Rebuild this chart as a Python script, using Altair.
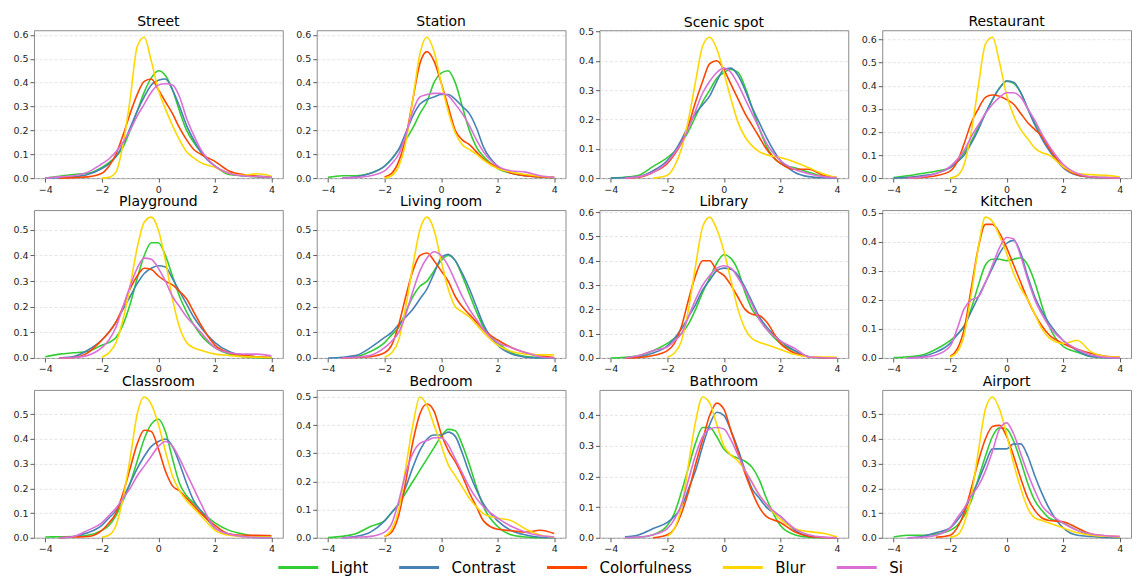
import altair as alt
import pandas as pd

X = [-4, -3.5, -3, -2.5, -2, -1.75, -1.5, -1.25, -1, -0.75, -0.5, -0.25,
     0, 0.25, 0.5, 0.75, 1, 1.25, 1.5, 2, 2.5, 3, 3.5, 4]
SERIES = ["Light", "Contrast", "Colorfulness", "Blur", "Si"]
COLORS = ["#32CD32", "#4682B4", "#FF4500", "#FFD700", "#DA70D6"]
Y_TICKS = [0.0, 0.1, 0.2, 0.3, 0.4, 0.5, 0.6]
X_TICKS = [-4, -2, 0, 2, 4]
N = None

street_light = [0.0, 0.008, 0.015, 0.02, 0.045, 0.065, 0.09, 0.13, 0.2, 0.28, 0.36, 0.42, 0.45, 0.43, 0.37, 0.28, 0.2, 0.15, 0.11, 0.05, 0.015, 0.01, 0.005, 0.003]
street_contrast = [0.0, 0.002, 0.005, 0.015, 0.04, 0.06, 0.09, 0.14, 0.21, 0.28, 0.34, 0.39, 0.41, 0.415, 0.37, 0.3, 0.22, 0.16, 0.11, 0.05, 0.02, 0.01, 0.008, 0.005]
street_colorfulness = [N, 0.0, 0.002, 0.005, 0.02, 0.05, 0.1, 0.18, 0.27, 0.35, 0.405, 0.415, 0.37, 0.32, 0.27, 0.21, 0.16, 0.12, 0.1, 0.07, 0.03, 0.015, 0.008, 0.005]
street_blur = [N, N, N, N, 0.0, 0.003, 0.025, 0.14, 0.33, 0.55, 0.59, 0.49, 0.37, 0.29, 0.22, 0.16, 0.11, 0.085, 0.065, 0.045, 0.02, 0.012, 0.018, 0.008]
street_si = [0.0, 0.005, 0.01, 0.025, 0.06, 0.08, 0.11, 0.15, 0.2, 0.26, 0.31, 0.36, 0.39, 0.395, 0.39, 0.34, 0.25, 0.18, 0.12, 0.05, 0.02, 0.01, 0.006, 0.003]

station_light = [0.003, 0.01, 0.01, 0.02, 0.05, 0.08, 0.12, 0.16, 0.21, 0.27, 0.32, 0.4, 0.44, 0.45, 0.4, 0.3, 0.2, 0.13, 0.09, 0.04, 0.02, 0.01, 0.005, 0.002]
station_contrast = [N, 0.0, 0.005, 0.02, 0.05, 0.08, 0.12, 0.19, 0.26, 0.31, 0.33, 0.34, 0.35, 0.35, 0.33, 0.3, 0.27, 0.21, 0.13, 0.05, 0.02, 0.01, 0.005, 0.002]
station_colorfulness = [N, N, N, N, 0.005, 0.02, 0.07, 0.17, 0.33, 0.48, 0.53, 0.49, 0.4, 0.3, 0.2, 0.16, 0.14, 0.11, 0.08, 0.045, 0.02, 0.01, 0.005, 0.003]
station_blur = [N, N, N, N, 0.0, 0.01, 0.05, 0.15, 0.33, 0.52, 0.59, 0.53, 0.4, 0.28, 0.19, 0.14, 0.12, 0.1, 0.075, 0.04, 0.025, 0.015, 0.008, 0.003]
station_si = [N, 0.0, 0.003, 0.01, 0.03, 0.06, 0.1, 0.18, 0.28, 0.34, 0.35, 0.355, 0.355, 0.345, 0.31, 0.27, 0.22, 0.16, 0.11, 0.05, 0.03, 0.025, 0.01, 0.003]

scenic_light = [0.001, 0.003, 0.01, 0.04, 0.07, 0.09, 0.12, 0.16, 0.21, 0.26, 0.3, 0.34, 0.36, 0.37, 0.36, 0.31, 0.24, 0.17, 0.11, 0.05, 0.035, 0.02, 0.006, 0.001]
scenic_contrast = [0.0, 0.002, 0.005, 0.025, 0.06, 0.09, 0.13, 0.18, 0.22, 0.25, 0.28, 0.33, 0.37, 0.375, 0.35, 0.3, 0.24, 0.19, 0.14, 0.06, 0.02, 0.005, 0.001, 0.0]
scenic_colorfulness = [N, 0.0, 0.003, 0.02, 0.05, 0.08, 0.12, 0.18, 0.26, 0.33, 0.39, 0.4, 0.37, 0.32, 0.27, 0.22, 0.18, 0.14, 0.1, 0.05, 0.03, 0.03, 0.01, 0.002]
scenic_blur = [N, N, N, 0.0, 0.01, 0.04, 0.1, 0.2, 0.33, 0.45, 0.48, 0.44, 0.36, 0.27, 0.19, 0.14, 0.11, 0.09, 0.08, 0.07, 0.055, 0.035, 0.015, 0.002]
scenic_si = [N, 0.0, 0.005, 0.02, 0.055, 0.085, 0.12, 0.17, 0.23, 0.29, 0.33, 0.36, 0.375, 0.36, 0.32, 0.27, 0.22, 0.17, 0.12, 0.06, 0.03, 0.015, 0.005, 0.001]

restaurant_light = [0.002, 0.01, 0.02, 0.03, 0.045, 0.07, 0.11, 0.16, 0.22, 0.28, 0.34, 0.39, 0.42, 0.41, 0.37, 0.3, 0.24, 0.18, 0.13, 0.05, 0.015, 0.005, 0.002, 0.001]
restaurant_contrast = [0.0, 0.003, 0.01, 0.02, 0.045, 0.07, 0.1, 0.15, 0.21, 0.28, 0.34, 0.39, 0.42, 0.415, 0.37, 0.3, 0.23, 0.17, 0.12, 0.045, 0.012, 0.004, 0.001, 0.0]
restaurant_colorfulness = [N, 0.0, 0.003, 0.01, 0.03, 0.07, 0.15, 0.24, 0.3, 0.35, 0.36, 0.355, 0.34, 0.32, 0.28, 0.24, 0.21, 0.18, 0.13, 0.05, 0.015, 0.005, 0.002, 0.001]
restaurant_blur = [N, N, N, N, 0.0, 0.01, 0.06, 0.2, 0.4, 0.58, 0.61, 0.5, 0.36, 0.27, 0.21, 0.17, 0.13, 0.11, 0.1, 0.05, 0.02, 0.015, 0.012, 0.005]
restaurant_si = [N, 0.0, 0.005, 0.02, 0.05, 0.08, 0.12, 0.18, 0.23, 0.28, 0.32, 0.35, 0.37, 0.37, 0.35, 0.3, 0.25, 0.19, 0.14, 0.06, 0.02, 0.005, 0.002, 0.0]

playground_light = [0.005, 0.015, 0.02, 0.025, 0.05, 0.06, 0.08, 0.13, 0.21, 0.31, 0.4, 0.45, 0.45, 0.4, 0.32, 0.24, 0.18, 0.13, 0.09, 0.04, 0.015, 0.005, 0.001, 0.0]
playground_contrast = [N, 0.0, 0.005, 0.03, 0.07, 0.1, 0.14, 0.19, 0.24, 0.29, 0.33, 0.35, 0.36, 0.355, 0.31, 0.26, 0.21, 0.16, 0.12, 0.06, 0.025, 0.01, 0.004, 0.002]
playground_colorfulness = [N, 0.0, 0.002, 0.02, 0.07, 0.1, 0.14, 0.2, 0.27, 0.32, 0.35, 0.345, 0.32, 0.3, 0.285, 0.26, 0.23, 0.18, 0.13, 0.05, 0.02, 0.01, 0.004, 0.002]
playground_blur = [N, N, N, N, 0.003, 0.02, 0.06, 0.15, 0.28, 0.43, 0.53, 0.55, 0.5, 0.38, 0.23, 0.12, 0.06, 0.04, 0.03, 0.015, 0.01, 0.005, 0.003, 0.002]
playground_si = [N, 0.0, 0.002, 0.01, 0.04, 0.07, 0.12, 0.2, 0.28, 0.35, 0.39, 0.385, 0.35, 0.3, 0.24, 0.2, 0.16, 0.13, 0.1, 0.04, 0.02, 0.015, 0.015, 0.008]

living_light = [N, 0.0, 0.005, 0.025, 0.06, 0.09, 0.12, 0.18, 0.24, 0.28, 0.3, 0.34, 0.38, 0.4, 0.38, 0.32, 0.25, 0.18, 0.12, 0.06, 0.02, 0.005, 0.001, 0.0]
living_contrast = [0.0, 0.003, 0.01, 0.04, 0.08, 0.1, 0.13, 0.16, 0.19, 0.23, 0.27, 0.33, 0.39, 0.405, 0.38, 0.33, 0.27, 0.2, 0.13, 0.05, 0.015, 0.003, 0.0, 0.0]
living_colorfulness = [N, 0.0, 0.002, 0.005, 0.02, 0.05, 0.13, 0.24, 0.34, 0.4, 0.41, 0.38, 0.34, 0.3, 0.24, 0.2, 0.17, 0.14, 0.11, 0.07, 0.04, 0.02, 0.008, 0.002]
living_blur = [N, N, N, N, 0.003, 0.02, 0.07, 0.2, 0.36, 0.5, 0.55, 0.5, 0.38, 0.27, 0.2, 0.18, 0.16, 0.13, 0.1, 0.05, 0.025, 0.015, 0.012, 0.012]
living_si = [N, 0.0, 0.003, 0.01, 0.04, 0.065, 0.1, 0.17, 0.26, 0.34, 0.39, 0.415, 0.4, 0.36, 0.3, 0.24, 0.19, 0.15, 0.11, 0.06, 0.04, 0.02, 0.005, 0.0]

library_light = [0.0, 0.003, 0.01, 0.03, 0.06, 0.08, 0.1, 0.14, 0.2, 0.27, 0.33, 0.39, 0.425, 0.41, 0.36, 0.27, 0.2, 0.16, 0.12, 0.06, 0.03, 0.005, 0.001, 0.0]
library_contrast = [N, 0.0, 0.005, 0.02, 0.05, 0.08, 0.12, 0.17, 0.22, 0.28, 0.32, 0.36, 0.37, 0.365, 0.34, 0.29, 0.23, 0.17, 0.13, 0.07, 0.03, 0.005, 0.001, 0.0]
library_colorfulness = [N, 0.0, 0.002, 0.01, 0.03, 0.06, 0.13, 0.24, 0.34, 0.4, 0.4, 0.36, 0.34, 0.3, 0.25, 0.2, 0.18, 0.175, 0.15, 0.06, 0.02, 0.005, 0.001, 0.0]
library_blur = [N, N, N, N, 0.003, 0.02, 0.07, 0.2, 0.38, 0.54, 0.58, 0.53, 0.44, 0.32, 0.2, 0.12, 0.08, 0.065, 0.055, 0.035, 0.015, 0.005, 0.004, 0.003]
library_si = [N, 0.0, 0.01, 0.03, 0.045, 0.07, 0.1, 0.17, 0.24, 0.3, 0.34, 0.37, 0.38, 0.37, 0.33, 0.28, 0.22, 0.16, 0.12, 0.07, 0.04, 0.005, 0.001, 0.0]

kitchen_light = [0.001, 0.004, 0.01, 0.03, 0.06, 0.08, 0.11, 0.17, 0.25, 0.32, 0.34, 0.34, 0.335, 0.34, 0.345, 0.32, 0.26, 0.18, 0.11, 0.04, 0.02, 0.005, 0.001, 0.0]
kitchen_contrast = [N, 0.0, 0.005, 0.02, 0.05, 0.08, 0.11, 0.16, 0.21, 0.26, 0.31, 0.36, 0.395, 0.405, 0.36, 0.28, 0.21, 0.16, 0.12, 0.06, 0.025, 0.005, 0.001, 0.0]
kitchen_colorfulness = [N, N, N, N, 0.005, 0.03, 0.1, 0.24, 0.38, 0.46, 0.46, 0.43, 0.38, 0.32, 0.26, 0.2, 0.15, 0.11, 0.08, 0.05, 0.03, 0.015, 0.006, 0.003]
kitchen_blur = [N, N, N, N, 0.003, 0.02, 0.08, 0.22, 0.38, 0.485, 0.47, 0.42, 0.36, 0.29, 0.24, 0.2, 0.15, 0.1, 0.07, 0.05, 0.06, 0.02, 0.005, 0.003]
kitchen_si = [N, 0.0, 0.002, 0.01, 0.04, 0.1, 0.17, 0.2, 0.21, 0.26, 0.32, 0.38, 0.415, 0.41, 0.35, 0.27, 0.2, 0.15, 0.11, 0.06, 0.03, 0.01, 0.002, 0.0]

classroom_light = [0.003, 0.004, 0.005, 0.01, 0.03, 0.05, 0.09, 0.15, 0.22, 0.31, 0.4, 0.46, 0.48, 0.43, 0.32, 0.22, 0.17, 0.14, 0.11, 0.06, 0.03, 0.015, 0.005, 0.002]
classroom_contrast = [N, 0.0, 0.005, 0.02, 0.05, 0.08, 0.11, 0.16, 0.22, 0.28, 0.33, 0.37, 0.39, 0.4, 0.37, 0.3, 0.22, 0.15, 0.11, 0.04, 0.015, 0.005, 0.001, 0.0]
classroom_colorfulness = [N, 0.0, 0.003, 0.005, 0.03, 0.06, 0.1, 0.18, 0.28, 0.38, 0.435, 0.43, 0.36, 0.27, 0.21, 0.19, 0.16, 0.13, 0.1, 0.05, 0.015, 0.01, 0.01, 0.008]
classroom_blur = [N, N, N, N, 0.002, 0.01, 0.05, 0.16, 0.32, 0.5, 0.57, 0.54, 0.46, 0.35, 0.25, 0.19, 0.15, 0.12, 0.09, 0.03, 0.01, 0.005, 0.003, 0.002]
classroom_si = [N, 0.0, 0.005, 0.03, 0.06, 0.09, 0.12, 0.16, 0.2, 0.25, 0.29, 0.33, 0.37, 0.39, 0.37, 0.32, 0.26, 0.2, 0.14, 0.04, 0.015, 0.005, 0.001, 0.0]

bedroom_light = [0.001, 0.005, 0.015, 0.04, 0.06, 0.09, 0.12, 0.16, 0.2, 0.24, 0.28, 0.32, 0.36, 0.385, 0.38, 0.33, 0.26, 0.18, 0.11, 0.04, 0.01, 0.003, 0.0, 0.0]
bedroom_contrast = [N, 0.0, 0.005, 0.02, 0.06, 0.09, 0.12, 0.18, 0.25, 0.31, 0.35, 0.365, 0.365, 0.375, 0.36, 0.3, 0.23, 0.17, 0.12, 0.06, 0.025, 0.01, 0.002, 0.0]
bedroom_colorfulness = [N, N, N, N, 0.005, 0.02, 0.08, 0.2, 0.34, 0.44, 0.475, 0.45, 0.37, 0.31, 0.27, 0.22, 0.16, 0.11, 0.06, 0.03, 0.025, 0.02, 0.027, 0.015]
bedroom_blur = [N, N, N, N, 0.005, 0.03, 0.1, 0.25, 0.4, 0.5, 0.47, 0.4, 0.33, 0.26, 0.22, 0.18, 0.14, 0.11, 0.085, 0.07, 0.06, 0.03, 0.01, 0.002]
bedroom_si = [N, 0.0, 0.002, 0.005, 0.02, 0.05, 0.13, 0.23, 0.3, 0.335, 0.345, 0.355, 0.355, 0.33, 0.28, 0.23, 0.18, 0.14, 0.11, 0.07, 0.04, 0.02, 0.008, 0.003]

bathroom_light = [N, 0.0, 0.002, 0.01, 0.04, 0.08, 0.15, 0.23, 0.31, 0.36, 0.36, 0.33, 0.29, 0.27, 0.26, 0.25, 0.23, 0.19, 0.13, 0.04, 0.01, 0.002, 0.0, 0.0]
bathroom_contrast = [N, 0.003, 0.01, 0.03, 0.05, 0.07, 0.1, 0.16, 0.22, 0.3, 0.37, 0.41, 0.4, 0.35, 0.29, 0.22, 0.16, 0.13, 0.1, 0.07, 0.025, 0.005, 0.001, 0.0]
bathroom_colorfulness = [N, N, N, 0.0, 0.01, 0.03, 0.08, 0.15, 0.24, 0.32, 0.4, 0.44, 0.42, 0.35, 0.28, 0.21, 0.15, 0.1, 0.07, 0.05, 0.02, 0.005, 0.001, 0.0]
bathroom_blur = [N, N, N, N, 0.005, 0.03, 0.1, 0.24, 0.38, 0.46, 0.44, 0.37, 0.3, 0.27, 0.25, 0.22, 0.18, 0.14, 0.11, 0.06, 0.03, 0.02, 0.015, 0.003]
bathroom_si = [N, 0.0, 0.002, 0.01, 0.03, 0.06, 0.11, 0.19, 0.27, 0.33, 0.355, 0.36, 0.355, 0.32, 0.27, 0.22, 0.18, 0.14, 0.11, 0.07, 0.03, 0.01, 0.002, 0.0]

airport_light = [0.003, 0.01, 0.01, 0.015, 0.03, 0.05, 0.09, 0.15, 0.24, 0.33, 0.41, 0.445, 0.44, 0.39, 0.31, 0.22, 0.15, 0.11, 0.08, 0.06, 0.03, 0.01, 0.003, 0.0]
airport_contrast = [N, 0.0, 0.005, 0.02, 0.04, 0.07, 0.11, 0.17, 0.23, 0.3, 0.36, 0.36, 0.36, 0.38, 0.38, 0.33, 0.25, 0.18, 0.12, 0.04, 0.01, 0.005, 0.001, 0.0]
airport_colorfulness = [N, N, N, 0.002, 0.01, 0.04, 0.1, 0.2, 0.31, 0.4, 0.45, 0.455, 0.41, 0.33, 0.24, 0.16, 0.11, 0.08, 0.07, 0.065, 0.04, 0.015, 0.008, 0.005]
airport_blur = [N, N, N, N, 0.002, 0.01, 0.06, 0.17, 0.35, 0.52, 0.57, 0.52, 0.42, 0.3, 0.2, 0.12, 0.08, 0.07, 0.06, 0.04, 0.02, 0.01, 0.006, 0.003]
airport_si = [N, 0.0, 0.002, 0.01, 0.04, 0.08, 0.12, 0.17, 0.21, 0.27, 0.35, 0.44, 0.465, 0.42, 0.34, 0.26, 0.19, 0.13, 0.1, 0.06, 0.03, 0.015, 0.008, 0.005]

PANELS = [
    ("Street", [street_light, street_contrast, street_colorfulness, street_blur, street_si]),
    ("Station", [station_light, station_contrast, station_colorfulness, station_blur, station_si]),
    ("Scenic spot", [scenic_light, scenic_contrast, scenic_colorfulness, scenic_blur, scenic_si]),
    ("Restaurant", [restaurant_light, restaurant_contrast, restaurant_colorfulness, restaurant_blur, restaurant_si]),
    ("Playground", [playground_light, playground_contrast, playground_colorfulness, playground_blur, playground_si]),
    ("Living room", [living_light, living_contrast, living_colorfulness, living_blur, living_si]),
    ("Library", [library_light, library_contrast, library_colorfulness, library_blur, library_si]),
    ("Kitchen", [kitchen_light, kitchen_contrast, kitchen_colorfulness, kitchen_blur, kitchen_si]),
    ("Classroom", [classroom_light, classroom_contrast, classroom_colorfulness, classroom_blur, classroom_si]),
    ("Bedroom", [bedroom_light, bedroom_contrast, bedroom_colorfulness, bedroom_blur, bedroom_si]),
    ("Bathroom", [bathroom_light, bathroom_contrast, bathroom_colorfulness, bathroom_blur, bathroom_si]),
    ("Airport", [airport_light, airport_contrast, airport_colorfulness, airport_blur, airport_si]),
]

FONT = "DejaVu Sans"
W, H = 249, 148
LABEL_SIZE = 9.5

charts = []
for idx, (title, series_lists) in enumerate(PANELS):
    rows = []
    for s_i, (name, vals) in enumerate(zip(SERIES, series_lists)):
        for xv, yv in zip(X, vals):
            if yv is not None:
                rows.append({"x": xv, "y": yv, "series": name, "k": s_i})
    df = pd.DataFrame(rows)
    ymax = df["y"].max() * 1.05
    ticks = [t for t in Y_TICKS if t <= ymax + 1e-9]
    # keep titles at the same height: compensate for a top tick label poking above the frame
    gap = (ymax - ticks[-1]) / ymax * H
    overflow = max(0.0, LABEL_SIZE / 2 + 0.5 - gap)
    ch = alt.Chart(df).mark_line(strokeWidth=1.6, interpolate="monotone").encode(
        x=alt.X("x:Q", scale=alt.Scale(domain=[-4.4, 4.4], nice=False, zero=False),
                axis=alt.Axis(values=X_TICKS, format="d", title=None, grid=False)),
        y=alt.Y("y:Q", scale=alt.Scale(domain=[0, ymax], nice=False),
                axis=alt.Axis(values=ticks, format=".1f", title=None, grid=True)),
        color=alt.Color("series:N", scale=alt.Scale(domain=SERIES, range=COLORS),
                        legend=alt.Legend(title=None, orient="none", direction="horizontal",
                                          legendX=243, legendY=516)),
        order=alt.Order("k:Q"),
    ).properties(
        width=W, height=H,
        title=alt.TitleParams(title, fontSize=14, font=FONT, fontWeight="normal",
                              color="#000000", offset=1, dy=round(overflow, 1)),
    )
    charts.append(ch)

chart = alt.concat(*charts, columns=4, spacing=alt.RowColnumber(column=11, row=0)).resolve_scale(
    x="independent", y="independent"
).properties(
    padding={"left": 4, "top": 6, "right": 0, "bottom": 0}
).configure_view(
    stroke="#8c8c8c", strokeWidth=1
).configure_axis(
    labelFont=FONT, labelFontSize=LABEL_SIZE, labelColor="#222222",
    tickColor="#333333", tickSize=4, tickWidth=0.8, domain=False,
    gridColor="#d9d9d9", gridDash=[3, 2], gridWidth=0.7, labelPadding=2,
).configure_legend(
    symbolType="stroke", symbolSize=1600, symbolStrokeWidth=3,
    labelFont=FONT, labelFontSize=15, labelColor="#000000",
    labelOffset=11, columnPadding=24, padding=0,
)

chart.save("out.html", embed_options={"renderer": "svg", "actions": False})
